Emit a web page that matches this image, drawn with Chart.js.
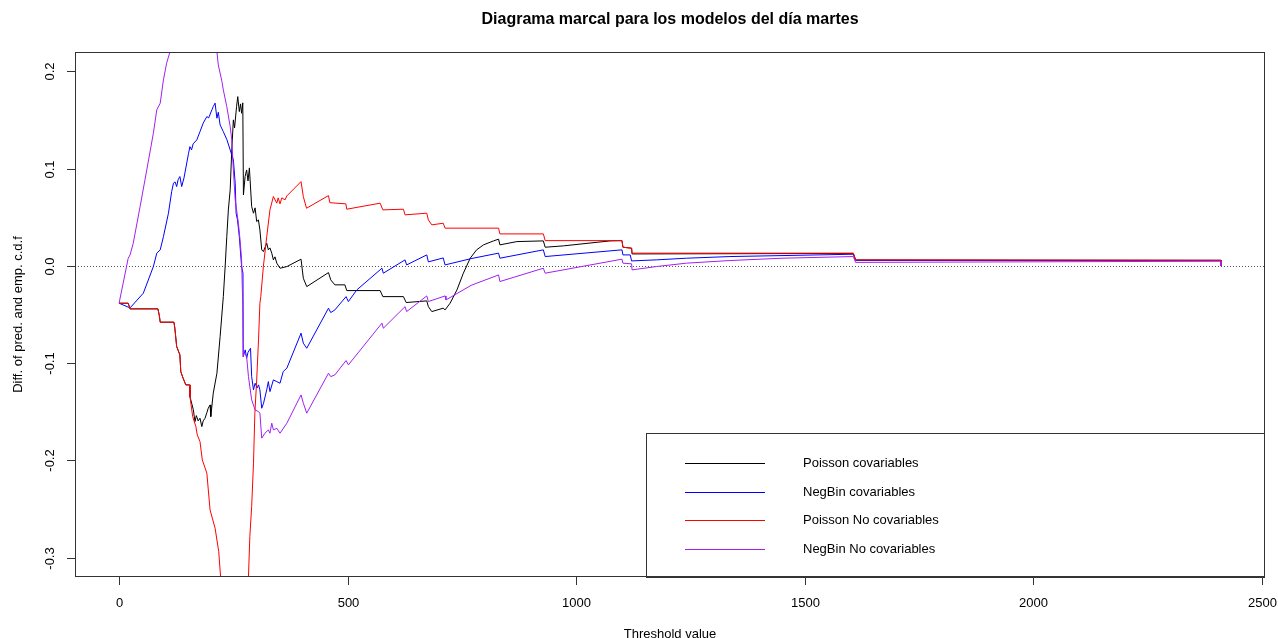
<!DOCTYPE html>
<html>
<head>
<meta charset="utf-8">
<script src="https://cdn.jsdelivr.net/npm/chart.js@4.4.1/dist/chart.umd.min.js"></script>
<style>
  html, body { margin: 0; padding: 0; background: #ffffff; }
  #wrap { width: 1278px; height: 638px; }
</style>
</head>
<body>
<div id="wrap"><canvas id="chart" width="1278" height="638"></canvas></div>
<script>
// Labels and ticks
const titleText = 'Diagrama marcal para los modelos del día martes';
const xAxisTitle = 'Threshold value';
const yAxisTitle = 'Diff. of pred. and emp. c.d.f';
const xTickValues = [0, 500, 1000, 1500, 2000, 2500];
const yTickValues = [0.2, 0.1, 0.0, -0.1, -0.2, -0.3];
const yTickLabels = ['0.2', '0.1', '0.0', '-0.1', '-0.2', '-0.3'];
const seriesNames = ['Poisson covariables', 'NegBin covariables', 'Poisson No covariables', 'NegBin No covariables'];
const seriesColors = ['#000000', '#0000ff', '#ff0000', '#a020f0'];

// Poisson covariables: threshold, difference
const poisCovT = [0, 20, 24, 85, 88, 90, 120, 122, 126, 133, 135, 140, 146, 154, 155, 162.5, 166, 169, 173, 177, 181, 184, 188, 192, 195, 199, 200.6, 206, 214, 221, 228, 232, 235.6, 239, 243, 246.5, 250, 252.6, 257, 259.6, 263, 265.7, 268, 270.6, 272, 275.6, 279, 282, 285, 290, 294, 297.5, 301, 304.7, 308, 312, 315.6, 323, 326.5, 330, 334, 337.5, 341, 345, 352, 367, 398, 403, 410.5, 458, 463, 472, 494, 498, 571, 577, 622, 628, 673, 676.5, 684, 709, 713, 724, 739, 753, 768, 782, 797, 819, 830, 833, 870, 928, 932, 972, 1074, 1100, 1102, 1121, 1122, 1606, 1611, 2410, 2410];
const poisCovD = [-0.0384, -0.0384, -0.0442, -0.0442, -0.0511, -0.0579, -0.0579, -0.0641, -0.0830, -0.0915, -0.1087, -0.1155, -0.1224, -0.1224, -0.1344, -0.1481, -0.1602, -0.1540, -0.1594, -0.1567, -0.1653, -0.1594, -0.1567, -0.1510, -0.1464, -0.1430, -0.1550, -0.1309, -0.1104, -0.0727, -0.0316, -0.0007, 0.0301, 0.0576, 0.0782, 0.1193, 0.1502, 0.1420, 0.1639, 0.1741, 0.1587, 0.1666, 0.1570, 0.1677, 0.0730, 0.0919, 0.0987, 0.0874, 0.1008, 0.0610, 0.0542, 0.0597, 0.0456, 0.0473, 0.0370, 0.0165, 0.0147, 0.0233, 0.0165, 0.0185, 0.0131, 0.0062, 0.0093, 0.0028, -0.0024, -0.0007, 0.0069, -0.0127, -0.0213, -0.0069, -0.0144, -0.0195, -0.0195, -0.0254, -0.0254, -0.0316, -0.0316, -0.0377, -0.0360, -0.0419, -0.0470, -0.0435, -0.0453, -0.0384, -0.0247, -0.0075, 0.0079, 0.0165, 0.0216, 0.0257, 0.0275, 0.0216, 0.0250, 0.0257, 0.0192, 0.0206, 0.0257, 0.0260, 0.0192, 0.0182, 0.0123, 0.0128, 0.0060, 0.0058, 0];

// NegBin covariables
const nbCovT = [0, 24, 53, 75, 82.5, 90, 97, 108, 115, 119, 122.5, 126, 129, 133, 137, 142, 152, 155, 158.5, 162, 170, 177, 184, 192, 196, 203, 206, 210, 214, 217, 221, 228, 236, 243, 250, 254, 256, 259, 263, 268, 271, 271.5, 276, 279, 282, 287.5, 290, 294, 297.5, 302, 305, 308, 312, 316, 323, 326.5, 330, 337.5, 345, 352, 359, 367, 398, 403, 410.5, 458, 463, 472, 496.5, 501.5, 520, 575, 578, 625.5, 629, 673, 676.5, 709, 713, 770, 830, 833, 928, 932, 1100, 1102, 1118, 1121, 1175, 1241, 1336, 1450, 1606, 1611, 2410, 2410];
const nbCovD = [-0.0384, -0.0432, -0.0281, -0.0007, 0.0131, 0.0165, 0.0301, 0.0542, 0.0764, 0.0851, 0.0864, 0.0816, 0.0885, 0.0919, 0.0816, 0.0905, 0.1159, 0.1227, 0.1193, 0.1255, 0.1296, 0.1381, 0.1468, 0.1536, 0.1522, 0.1605, 0.1639, 0.1674, 0.1519, 0.1580, 0.1450, 0.1381, 0.1296, 0.1193, 0.1090, 0.0851, 0.0542, 0.0473, 0.0301, -0.0007, -0.0075, -0.0933, -0.0864, -0.0950, -0.0890, -0.0847, -0.1139, -0.1275, -0.1207, -0.1255, -0.1224, -0.1275, -0.1464, -0.1412, -0.1275, -0.1190, -0.1293, -0.1173, -0.1190, -0.1207, -0.1087, -0.1052, -0.0692, -0.0795, -0.0847, -0.0435, -0.0480, -0.0453, -0.0316, -0.0367, -0.0247, -0.0024, -0.0075, 0.0062, 0.0010, 0.0113, 0.0041, 0.0082, 0.0010, 0.0075, 0.0131, 0.0079, 0.0165, 0.0096, 0.0165, 0.0113, 0.0113, 0.0051, 0.0062, 0.0079, 0.0096, 0.0106, 0.0120, 0.0057, 0.0054, 0];

// Poisson No covariables
const poisNoT = [0, 20, 24, 85, 88, 90, 120, 122, 126, 133, 135, 140, 146, 154, 155, 161, 168, 171, 177, 182, 192, 199, 210, 218, 222, 235, 250, 270, 283, 286, 290, 294, 297, 301, 305, 308, 310, 315.6, 323, 330, 337.5, 345, 348, 352, 356, 363, 367, 398, 403, 410, 458, 461, 496, 498, 571, 577, 622, 625.5, 673, 676.5, 684, 709, 713, 830, 833, 928, 932, 1100, 1102, 1121, 1122, 1606, 1611, 2410, 2410];
const poisNoD = [-0.0384, -0.0384, -0.0442, -0.0442, -0.0511, -0.0579, -0.0579, -0.0641, -0.0830, -0.0915, -0.1087, -0.1155, -0.1224, -0.1224, -0.1344, -0.1550, -0.1653, -0.1738, -0.1807, -0.1995, -0.2132, -0.2510, -0.2698, -0.2939, -0.3196, -0.3900, -0.4000, -0.3700, -0.3196, -0.2784, -0.2476, -0.2029, -0.1515, -0.1173, -0.0761, -0.0384, -0.0316, -0.0007, 0.0301, 0.0576, 0.0713, 0.0645, 0.0700, 0.0638, 0.0700, 0.0679, 0.0720, 0.0867, 0.0713, 0.0593, 0.0723, 0.0650, 0.0638, 0.0583, 0.0645, 0.0576, 0.0583, 0.0525, 0.0542, 0.0473, 0.0422, 0.0439, 0.0388, 0.0388, 0.0329, 0.0329, 0.0260, 0.0260, 0.0192, 0.0182, 0.0131, 0.0131, 0.0062, 0.0057, 0];

// NegBin No covariables
const nbNoT = [0, 20, 24, 31, 46, 60.6, 75, 82.5, 90, 97, 104, 111.5, 130, 160, 190, 214, 217, 225, 228, 235.6, 243, 246.5, 250, 254, 261, 264.6, 268, 270.6, 271.5, 272, 279, 283, 290, 297.5, 305, 308, 312, 319, 326.5, 330, 334, 337.5, 345, 352, 367, 398, 403, 410.5, 458, 463, 472, 496.5, 501.5, 575, 578, 625.5, 629, 673, 676.5, 713, 715, 770, 830, 833, 928, 932, 1100, 1102, 1121, 1122, 1175, 1241, 1336, 1450, 1606, 1611, 2410, 2410];
const nbNoD = [-0.0384, 0.0079, 0.0113, 0.0233, 0.0610, 0.0987, 0.1365, 0.1605, 0.1674, 0.1913, 0.2085, 0.2204, 0.2600, 0.2900, 0.2800, 0.2204, 0.2067, 0.1896, 0.1810, 0.1639, 0.1433, 0.1296, 0.0987, 0.0679, 0.0439, 0.0267, 0.0062, -0.0419, -0.0933, -0.0881, -0.0933, -0.1139, -0.1378, -0.1481, -0.1499, -0.1515, -0.1772, -0.1721, -0.1687, -0.1721, -0.1618, -0.1687, -0.1670, -0.1721, -0.1618, -0.1327, -0.1412, -0.1515, -0.1104, -0.1139, -0.1121, -0.0974, -0.1018, -0.0589, -0.0641, -0.0419, -0.0470, -0.0309, -0.0367, -0.0309, -0.0350, -0.0200, -0.0093, -0.0161, -0.0024, -0.0075, 0.0069, 0.0028, 0.0021, -0.0041, -0.0007, 0.0028, 0.0055, 0.0079, 0.0096, 0.0036, 0.0048, 0];

const seriesT = [poisCovT, nbCovT, poisNoT, nbNoT];
const seriesD = [poisCovD, nbCovD, poisNoD, nbNoD];

const FONT = '"Liberation Sans", Arial, Helvetica, sans-serif';

const datasets = seriesNames.map((name, i) => ({
  label: name,
  data: seriesT[i].map((t, k) => ({ x: t, y: seriesD[i][k] })),
  borderColor: seriesColors[i],
  backgroundColor: seriesColors[i],
  borderWidth: 1,
  pointRadius: 0,
  showLine: true,
  tension: 0,
  fill: false,
  order: seriesNames.length - i
}));

// Base-graphics style frame: dotted zero line, box, axes, titles, legend
const frame = {
  id: 'frame',
  beforeDatasetsDraw(chart) {
    const { ctx, chartArea: a, scales: { y } } = chart;
    const y0 = Math.round(y.getPixelForValue(0)) + 0.5;
    ctx.save();
    ctx.strokeStyle = '#555555';
    ctx.lineWidth = 1;
    ctx.setLineDash([1, 2]);
    ctx.beginPath();
    ctx.moveTo(a.left, y0);
    ctx.lineTo(a.right, y0);
    ctx.stroke();
    ctx.restore();
  },
  afterDraw(chart) {
    const { ctx, chartArea: a, scales: { x, y } } = chart;
    ctx.save();
    ctx.strokeStyle = '#333333';
    ctx.fillStyle = '#000000';
    ctx.lineWidth = 1;

    // plot box
    ctx.strokeRect(a.left + 0.5, a.top + 0.5, a.right - a.left - 1, a.bottom - a.top - 1);

    // x axis ticks and labels
    ctx.font = '13px ' + FONT;
    ctx.textAlign = 'center';
    ctx.textBaseline = 'middle';
    xTickValues.forEach(v => {
      const px = Math.round(x.getPixelForValue(v)) + 0.5;
      ctx.beginPath();
      ctx.moveTo(px, a.bottom);
      ctx.lineTo(px, a.bottom + 8);
      ctx.stroke();
      ctx.fillText(String(v), px, a.bottom + 26);
    });

    // y axis ticks and rotated labels
    yTickValues.forEach((v, i) => {
      const py = Math.round(y.getPixelForValue(v)) + 0.5;
      ctx.beginPath();
      ctx.moveTo(a.left, py);
      ctx.lineTo(a.left - 8, py);
      ctx.stroke();
      ctx.save();
      ctx.translate(a.left - 25, py);
      ctx.rotate(-Math.PI / 2);
      ctx.fillText(yTickLabels[i], 0, 0);
      ctx.restore();
    });

    // axis titles
    ctx.fillText(xAxisTitle, (a.left + a.right) / 2, 634);
    ctx.save();
    ctx.translate(18, (a.top + a.bottom) / 2);
    ctx.rotate(-Math.PI / 2);
    ctx.fillText(yAxisTitle, 0, 0);
    ctx.restore();

    // main title
    ctx.font = 'bold 16px ' + FONT;
    ctx.fillText(titleText, (a.left + a.right) / 2, 20);

    // legend
    const lx = 646, ly = 433;
    ctx.strokeStyle = '#333333';
    ctx.strokeRect(lx + 0.5, ly + 0.5, a.right - lx - 1, a.bottom - ly);
    ctx.font = '13px ' + FONT;
    ctx.textAlign = 'left';
    chart.data.datasets.forEach((ds, i) => {
      const yy = Math.round(463 + i * 28.7) + 0.5;
      ctx.strokeStyle = ds.borderColor;
      ctx.beginPath();
      ctx.moveTo(685, yy);
      ctx.lineTo(765, yy);
      ctx.stroke();
      ctx.fillText(ds.label, 803, yy);
    });
    ctx.restore();
  }
};

new Chart(document.getElementById('chart'), {
  type: 'scatter',
  data: { datasets },
  options: {
    responsive: false,
    animation: false,
    devicePixelRatio: 1,
    layout: { padding: { left: 75, right: 13, top: 52, bottom: 61 } },
    scales: {
      x: { type: 'linear', min: -96.4, max: 2506.4, display: false },
      y: { type: 'linear', min: -0.32, max: 0.22, display: false }
    },
    plugins: {
      legend: { display: false },
      tooltip: { enabled: false },
      title: { display: false }
    }
  },
  plugins: [frame]
});
</script>
</body>
</html>
